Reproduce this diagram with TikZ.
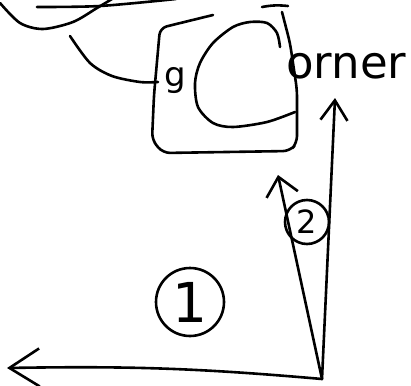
\documentclass[tikz,border=0pt]{standalone}
\usepackage{fontspec}
\setmainfont{DejaVu Sans}
\usetikzlibrary{arrows.meta}

\begin{document}
\begin{tikzpicture}[x=1pt, y=1pt,
  pen/.style={line width=2.6pt, line cap=round, line join=round},
  num/.style={draw, pen, circle, inner sep=0pt},
  word/.style={inner sep=0pt}]
  \useasboundingbox (0,0) rectangle (411,-385);
  % scribbles at the top
  \draw[pen] plot[smooth] coordinates {(0,-3) (20,-23) (43,-29) (73,-22) (97,-8) (112,1)};
  \draw[pen] plot[smooth] coordinates {(37,-7) (100,-6) (176,1)};
  \draw[pen] plot[smooth] coordinates {(70,-36) (90,-63) (112,-76) (140,-82) (158,-82)};
  % the box
  \draw[pen, rounded corners=7pt] (213,-15) -- (160,-28) -- (154,-95) -- (152,-140)
    -- (163,-153) -- (290,-151) -- (297,-143) -- (297,-90) -- (290,-43) -- (282,-12);
  \draw[pen] (262,-7) to[bend left=8] (288,-6);
  \draw[pen] plot[smooth] coordinates {(280,-47) (277,-33) (267,-23) (250,-22) (233,-27)
    (213,-43) (200,-63) (195,-83) (198,-107) (213,-123) (233,-127) (267,-122) (295,-112)};
  \node[word, anchor=base west, font=\fontsize{34}{34}\selectfont] (g) at (164,-87) {g};
  \node[word, anchor=base west, font=\fontsize{45}{45}\selectfont] (corner) at (286,-78) {orner};
  % axes
  \coordinate (o) at (322,-379);
  \coordinate (xend) at (7,-368);
  \coordinate (yend) at (335,-98);
  \coordinate (vend) at (278,-175);
  \draw[pen, -{Straight Barb[length=30pt, width=38pt]}] (o) to[bend right=3] (xend);
  \draw[pen, -{Straight Barb[length=20pt, width=27pt]}] (o) -- (yend);
  \draw[pen, -{Straight Barb[length=18pt, width=32pt]}] (o) -- (vend);
  % labels
  \node[num, minimum size=68pt, font=\fontsize{55}{55}\selectfont] (c1) at (190,-302) {1};
  \node[num, minimum size=44pt, font=\fontsize{32}{32}\selectfont] (c2) at (307,-222) {2};
\end{tikzpicture}
\end{document}
